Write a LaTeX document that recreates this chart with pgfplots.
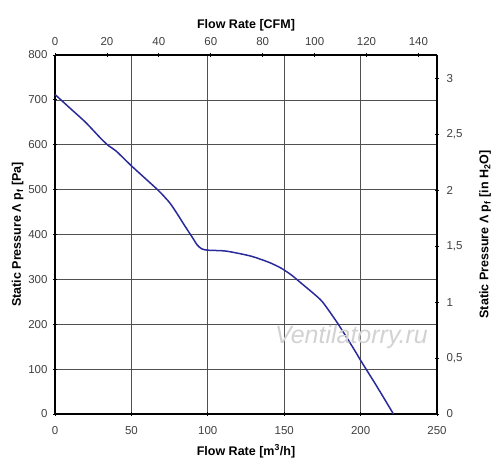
\documentclass[border=0pt]{standalone}
\usepackage{pgfplots}
\pgfplotsset{compat=1.18}
\usepackage{fontspec}
\setmainfont{Liberation Sans}
\definecolor{curve}{HTML}{2A2A9C}
\definecolor{gridc}{HTML}{505050}
\definecolor{tickc}{HTML}{404040}
\begin{document}
\begin{tikzpicture}
\pgfplotsset{every axis/.append style={
  scale only axis, width=382pt, height=359pt,
  /pgf/number format/assume math mode=true,
  tick label style={font=\fontsize{11.5}{13}\selectfont, text=tickc},
  label style={font=\bfseries\fontsize{12.5}{14}\selectfont},
  axis line style={line width=1.6pt},
  major tick style={black, line width=0.8pt},
  major tick length=4pt,
}}
\begin{axis}[
  name=main,
  xmin=0, xmax=250, ymin=0, ymax=800,
  axis x line*=bottom, axis y line*=left,
  xtick={0,50,...,250}, ytick={0,100,...,800},
  tick align=center,
  xticklabel style={yshift=-7pt},
  yticklabel style={xshift=-2pt},
  grid=major, grid style={gridc, line width=0.7pt},
  xlabel={Flow Rate [m\textsuperscript{3}/h]},
  ylabel={Static Pressure Λ p\textsubscript{f} [Pa]},
  xlabel style={yshift=-3pt},
  ylabel style={yshift=-2pt},
  clip=false,
]
\addplot[curve, line width=1.5pt, smooth, tension=0.4] coordinates {
(0,712) (10,681) (20,650) (30,614) (35,598) (40,586) (50,553) (60,522)
(68,497) (75,471) (80,446) (85,419) (90,393) (93,377) (96,368) (100,365)
(112,363) (128,352) (140,338) (148,325) (155,309) (162,289) (168,272)
(175,250) (185,202) (195,148) (201,114) (210,65) (221.5,0)
};
\node[text=gray!35, font=\itshape\fontsize{25}{28}\selectfont] at (axis cs:194,171) {Ventilatorry.ru};
\end{axis}
\begin{axis}[
  xmin=0, xmax=147.15, ymin=0, ymax=3.2117,
  axis x line*=top, axis y line*=right,
  xtick={0,20,...,140}, ytick={0,0.5,...,3},
  /pgf/number format/use comma,
  tick align=center,
  xticklabel style={yshift=4pt},
  yticklabel style={xshift=4pt},
  xlabel={Flow Rate [CFM]},
  ylabel={Static Pressure Λ p\textsubscript{f} [in H\textsubscript{2}O]},
  ylabel style={yshift=-10pt},
  xlabel style={yshift=-1pt},
]
\addplot[draw=none] coordinates {(0,0)};
\end{axis}
\path[use as bounding box] ([shift={(-55pt,-56pt)}]main.south west) rectangle ([shift={(63pt,55pt)}]main.north east);
\end{tikzpicture}
\end{document}
